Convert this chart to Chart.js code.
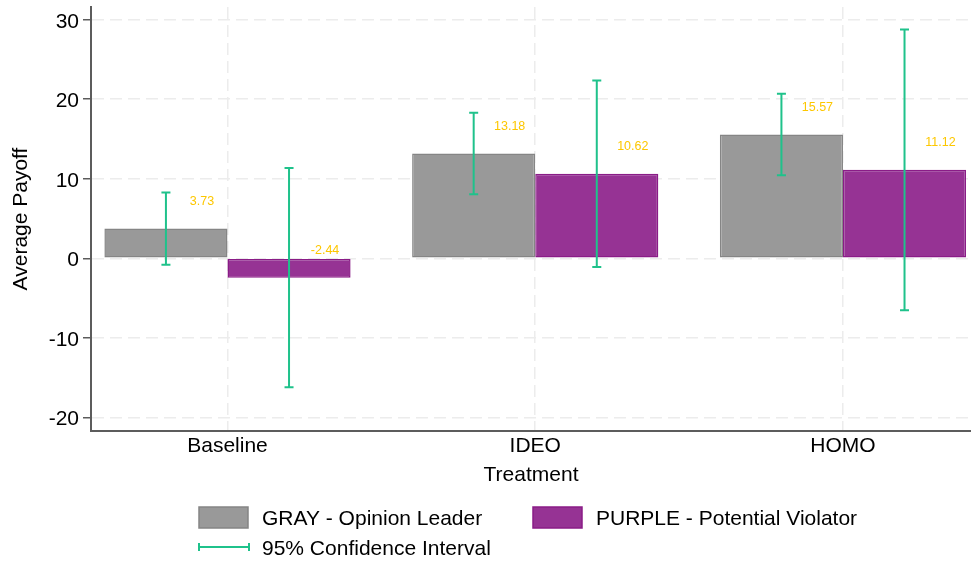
<!DOCTYPE html>
<html lang="en">
  <head>
    <meta charset="UTF-8" />
    <title>Average Payoff by Treatment</title>
    <style>
      html,
      body {
        margin: 0;
        padding: 0;
        background: #fff;
      }
      .ChartBox {
        position: relative;
        width: 971px;
        height: 561px;
      }
    </style>
  </head>
  <body>
    <div class="ChartBox">
      <canvas id="barChart"></canvas>
    </div>
    <script src="https://cdn.jsdelivr.net/npm/chart.js"></script>
    <script>
      // values
      const treatments = ["Baseline", "IDEO", "HOMO"];
      const grayMeans = [3.73, 13.18, 15.57];
      const grayLow = [-0.8, 8.06, 10.45];
      const grayHigh = [8.26, 18.3, 20.69];
      const purpleMeans = [-2.44, 10.62, 11.12];
      const purpleLow = [-16.22, -1.11, -6.52];
      const purpleHigh = [11.34, 22.35, 28.76];
      const yTicks = [-20, -10, 0, 10, 20, 30];

      const GRAY = "#999999";
      const PURPLE = "#963394";
      const CI_COLOR = "#1fc28b";
      const LABEL_COLOR = "#fdc700";
      const FONT = "'Liberation Sans', Arial, Helvetica, sans-serif";

      Chart.defaults.font.family = FONT;
      Chart.defaults.color = "#000";

      const toPoints = (vals) => vals.map((v, i) => ({ x: i + 1, y: v }));

      // confidence interval whiskers, drawn on the library's scales
      const errorBars = {
        id: "errorBars",
        afterDatasetsDraw(chart) {
          const { ctx, scales } = chart;
          const y = scales.y;
          ctx.save();
          ctx.strokeStyle = CI_COLOR;
          ctx.lineWidth = 2;
          chart.data.datasets.forEach((ds, d) => {
            chart.getDatasetMeta(d).data.forEach((bar, i) => {
              const top = y.getPixelForValue(ds.ciHigh[i]);
              const bot = y.getPixelForValue(ds.ciLow[i]);
              ctx.beginPath();
              ctx.moveTo(bar.x, top);
              ctx.lineTo(bar.x, bot);
              ctx.moveTo(bar.x - 4.5, top);
              ctx.lineTo(bar.x + 4.5, top);
              ctx.moveTo(bar.x - 4.5, bot);
              ctx.lineTo(bar.x + 4.5, bot);
              ctx.stroke();
            });
          });
          // value labels
          ctx.fillStyle = LABEL_COLOR;
          ctx.font = "12.5px " + FONT;
          ctx.textAlign = "center";
          ctx.textBaseline = "middle";
          chart.data.datasets.forEach((ds, d) => {
            chart.getDatasetMeta(d).data.forEach((bar, i) => {
              const v = ds.data[i].y;
              ctx.fillText(v.toFixed(2), bar.x + 36, y.getPixelForValue(v) - 27);
            });
          });
          ctx.restore();
        },
      };

      // legend laid out in two columns under the plot
      const bottomLegend = {
        id: "bottomLegend",
        afterDraw(chart) {
          const { ctx } = chart;
          const ds = chart.data.datasets;
          ctx.save();
          ctx.font = "21px " + FONT;
          ctx.fillStyle = "#000";
          ctx.textBaseline = "middle";
          ctx.textAlign = "left";

          const boxes = [
            { x: 199, ds: ds[0] },
            { x: 533, ds: ds[1] },
          ];
          boxes.forEach((b) => {
            ctx.fillStyle = b.ds.backgroundColor;
            ctx.fillRect(b.x, 507, 49, 21);
            ctx.strokeStyle = b.ds.borderColor;
            ctx.lineWidth = 1.5;
            ctx.strokeRect(b.x, 507, 49, 21);
            ctx.fillStyle = "#000";
            ctx.fillText(b.ds.label, b.x + 63, 519);
          });

          ctx.strokeStyle = CI_COLOR;
          ctx.lineWidth = 2;
          ctx.beginPath();
          ctx.moveTo(199, 547);
          ctx.lineTo(249, 547);
          ctx.moveTo(199, 543);
          ctx.lineTo(199, 551);
          ctx.moveTo(249, 543);
          ctx.lineTo(249, 551);
          ctx.stroke();
          ctx.fillText("95% Confidence Interval", 262, 549);
          ctx.restore();
        },
      };

      const bar = document.getElementById("barChart");

      new Chart(bar, {
        type: "bar",
        data: {
          datasets: [
            {
              label: "GRAY - Opinion Leader",
              data: toPoints(grayMeans),
              ciLow: grayLow,
              ciHigh: grayHigh,
              backgroundColor: GRAY,
              borderColor: "#858585",
              borderWidth: 1.5,
              borderSkipped: false,
            },
            {
              label: "PURPLE - Potential Violator",
              data: toPoints(purpleMeans),
              ciLow: purpleLow,
              ciHigh: purpleHigh,
              backgroundColor: PURPLE,
              borderColor: "#8a1c87",
              borderWidth: 1.5,
              borderSkipped: false,
            },
          ],
        },
        options: {
          responsive: true,
          maintainAspectRatio: false,
          animation: false,
          categoryPercentage: 0.8,
          barPercentage: 1.0,
          layout: { padding: { top: 7, bottom: 70, left: 0, right: 0 } },
          plugins: {
            legend: { display: false },
            tooltip: { enabled: false },
          },
          scales: {
            x: {
              type: "linear",
              offset: false,
              min: 0.5565,
              max: 3.416,
              afterBuildTicks: (s) => {
                s.ticks = treatments.map((t, i) => ({ value: i + 1 }));
              },
              afterFit: (s) => {
                s.height = 60;
                s.paddingLeft = 0;
                s.paddingRight = 0;
              },
              ticks: {
                padding: 3,
                font: { size: 21 },
                color: "#000",
                callback: (v) => treatments[v - 1],
              },
              grid: {
                offset: false,
                color: "#ececec",
                lineWidth: 1.5,
                drawTicks: false,
              },
              border: { color: "#5c5c5c", width: 2, dash: [12, 6] },
              title: {
                display: true,
                text: "Treatment",
                font: { size: 21 },
                color: "#000",
                padding: { top: 0, bottom: 3 },
              },
            },
            y: {
              min: -21.72,
              max: 31.6,
              afterBuildTicks: (s) => {
                s.ticks = yTicks.map((v) => ({ value: v }));
              },
              afterFit: (s) => {
                s.width = 91;
                s.paddingTop = 0;
                s.paddingBottom = 0;
              },
              ticks: {
                padding: 4,
                labelOffset: 2,
                font: { size: 21 },
                color: "#000",
              },
              grid: {
                color: "#ececec",
                lineWidth: 1.5,
                tickColor: "#5c5c5c",
                tickWidth: 1.5,
                tickLength: 8,
                tickBorderDash: [],
              },
              border: { color: "#5c5c5c", width: 2, dash: [12, 6] },
              title: {
                display: true,
                text: "Average Payoff",
                font: { size: 21 },
                color: "#000",
                padding: { top: 9, bottom: 0 },
              },
            },
          },
        },
        plugins: [errorBars, bottomLegend],
      });
    </script>
  </body>
</html>
